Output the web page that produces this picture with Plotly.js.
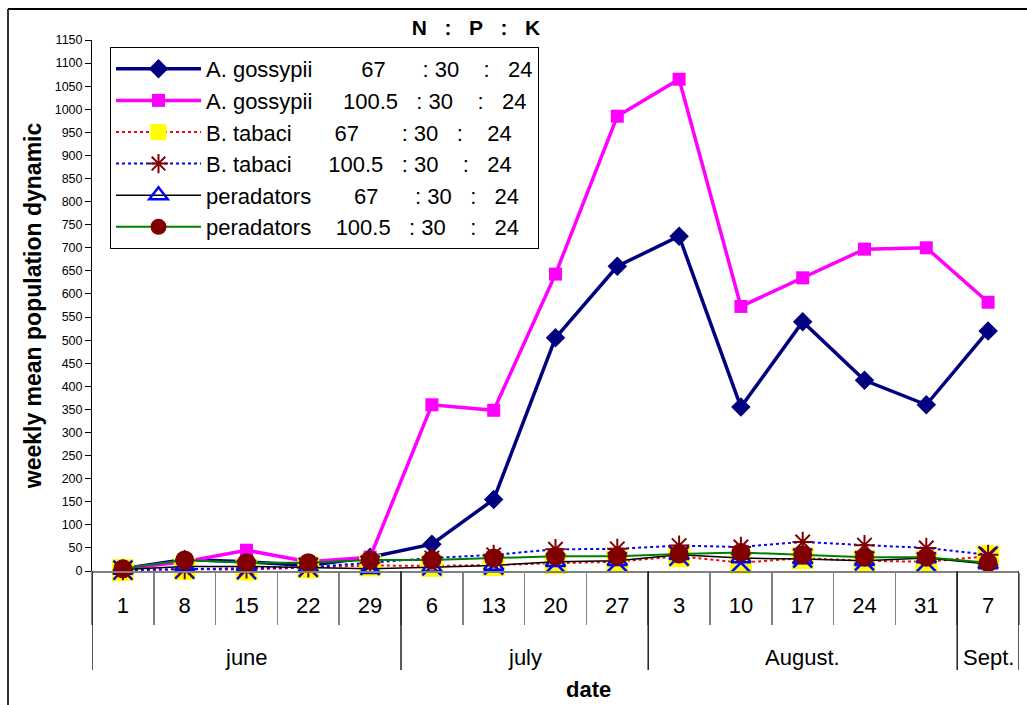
<!DOCTYPE html>
<html>
<head>
<meta charset="utf-8">
<script src="https://cdn.plot.ly/plotly-3.0.1.min.js"></script>
<style>html,body{margin:0;padding:0;background:#fff;}#chart{width:1027px;height:705px;}</style>
</head>
<body>
<div id="chart"></div>
<script>
const months = ["june","june","june","june","june","july","july","july","july","August.","August.","August.","August.","August.","Sept."];
const days = ["1","8","15","22","29","6","13","20","27","3","10","17","24","31","7"];

const aGossypii67 = [5, 25, 20, 12, 30, 58, 155, 505, 660, 725, 355, 540, 413, 360, 520];
const aGossypii100 = [5, 20, 45, 20, 30, 360, 348, 643, 985, 1065, 573, 635, 697, 700, 582];
const bTabaci67 = [2, 4, 3, 8, 12, 11, 13, 17, 20, 32, 18, 28, 22, 20, 32];
const bTabaci100 = [2, 4, 6, 8, 18, 28, 35, 47, 48, 55, 52, 63, 56, 50, 35];
const predators67 = [3, 10, 10, 8, 5, 8, 12, 20, 22, 35, 28, 26, 22, 28, 15];
const predators100 = [5, 24, 18, 18, 24, 24, 28, 32, 32, 37, 40, 35, 30, 30, 18];

const sp = n => "\u00a0".repeat(n);
const names = [
  "A. gossypii" + sp(8) + "67" + sp(6) + ":" + sp(1) + "30" + sp(4) + ":" + sp(3) + "24",
  "A. gossypii" + sp(5) + "100.5" + sp(3) + ":" + sp(1) + "30" + sp(4) + ":" + sp(3) + "24",
  "B. tabaci" + sp(7) + "67" + sp(7) + ":" + sp(1) + "30" + sp(3) + ":" + sp(4) + "24",
  "B. tabaci" + sp(6) + "100.5" + sp(3) + ":" + sp(1) + "30" + sp(4) + ":" + sp(3) + "24",
  "peradators" + sp(7) + "67" + sp(6) + ":" + sp(1) + "30" + sp(3) + ":" + sp(3) + "24",
  "peradators" + sp(4) + "100.5" + sp(3) + ":" + sp(1) + "30" + sp(4) + ":" + sp(3) + "24"
];

const x = days;
const traces = [
  {x, y: aGossypii67, name: names[0], legendgroup: "g1", mode: "lines+markers", cliponaxis: false,
   line: {color: "#000080", width: 3.5}, marker: {symbol: "diamond", size: 15, color: "#000080"}},
  {x, y: aGossypii100, name: names[1], legendgroup: "g2", mode: "lines+markers", cliponaxis: false,
   line: {color: "#FF00FF", width: 3.5}, marker: {symbol: "square", size: 13, color: "#FF00FF"}},
  {x, y: bTabaci67, name: names[2], legendgroup: "g3", mode: "lines+markers", cliponaxis: false,
   line: {color: "#FF0000", width: 2, dash: "dot"}, marker: {symbol: "square", size: 22, color: "#FFFF00"}},
  {x, y: bTabaci67, name: names[2], legendgroup: "g3", showlegend: false, mode: "markers", cliponaxis: false,
   marker: {symbol: "x-thin-open", size: 19, color: "#0000FF", line: {color: "#0000FF", width: 2.5}}},
  {x, y: bTabaci100, name: names[3], legendgroup: "g4", mode: "lines+markers", cliponaxis: false,
   line: {color: "#0000FF", width: 2, dash: "dot"}, marker: {symbol: "asterisk-open", size: 17, color: "#800000", line: {color: "#800000", width: 2}}},
  {x, y: predators67, name: names[4], legendgroup: "g5", mode: "lines+markers", cliponaxis: false,
   line: {color: "#000000", width: 1.5}, marker: {symbol: "triangle-up-open", size: 17, color: "#0000FF", line: {color: "#0000FF", width: 2.5}}},
  {x, y: predators100, name: names[5], legendgroup: "g6", mode: "lines+markers", cliponaxis: false,
   line: {color: "#008000", width: 2}, marker: {symbol: "circle", size: 19, color: "#800000"}}
];

// month groups from the months array
const groups = [];
months.forEach((m, i) => {
  if (!groups.length || groups[groups.length - 1].name !== m) groups.push({name: m, start: i, end: i});
  else groups[groups.length - 1].end = i;
});

const plotH = 705 - 40 - 134;
const dividerBottom = -(670 - 571) / plotH;
const shapes = [];
groups.forEach(g => {
  shapes.push({type: "line", xref: "x", yref: "paper", x0: g.start - 0.5, x1: g.start - 0.5, y0: 0, y1: dividerBottom,
               line: {color: "#202020", width: 1.5}});
});
shapes.push({type: "line", xref: "x", yref: "paper", x0: months.length - 0.5, x1: months.length - 0.5, y0: 0, y1: dividerBottom,
             line: {color: "#202020", width: 1.5}});
// chart frame (top and left edge)
shapes.push({type: "line", xref: "paper", yref: "paper", x0: (8 - 92) / 927, x1: 1.1, y0: (705 - 9 - 134) / plotH, y1: (705 - 9 - 134) / plotH,
             line: {color: "#000", width: 2}});
shapes.push({type: "line", xref: "paper", yref: "paper", x0: (8 - 92) / 927, x1: (8 - 92) / 927, y0: (705 - 9 - 134) / plotH, y1: -0.4,
             line: {color: "#333", width: 2}});

const annotations = groups.map(g => ({
  text: g.name, xref: "x", yref: "paper", x: (g.start + g.end) / 2, y: -(657 - 571) / plotH,
  yanchor: "middle", xanchor: "center", showarrow: false,
  font: {size: 22, family: "Liberation Sans, Arial, sans-serif", color: "#000"}
}));
annotations.push({text: "<b>date</b>", xref: "paper", yref: "paper", x: (588 - 92) / 927, y: -(689 - 571) / plotH, yanchor: "middle",
  showarrow: false, font: {size: 22, family: "Liberation Sans, Arial, sans-serif", color: "#000"}});

const layout = {
  width: 1027, height: 705,
  margin: {l: 92, r: 8, t: 40, b: 134},
  paper_bgcolor: "#ffffff", plot_bgcolor: "#ffffff",
  font: {family: "Liberation Sans, Arial, sans-serif", color: "#000"},
  showlegend: true,
  title: {text: "<b>N" + sp(3) + ":" + sp(3) + "P" + sp(3) + ":" + sp(3) + "K</b>", font: {size: 21, family: "Liberation Sans, Arial, sans-serif"},
          x: 476 / 1027, xref: "container", xanchor: "center", y: 1 - 28 / 705, yref: "container", yanchor: "middle"},
  legend: {x: (110 - 92) / 927, y: (705 - 47 - 134) / plotH, xanchor: "left", yanchor: "top", bgcolor: "#fff",
           bordercolor: "#000", borderwidth: 1, itemwidth: 85, tracegroupgap: 0,
           font: {size: 22, family: "Liberation Sans, Arial, sans-serif"}},
  xaxis: {type: "category", range: [-0.5, days.length - 0.5], showline: true, linecolor: "#808080", linewidth: 2,
          tickson: "boundaries", ticks: "outside", ticklen: 52, tickwidth: 1.5, tickcolor: "#808080",
          ticklabelstandoff: 14,
          showgrid: false, zeroline: false,
          tickfont: {size: 22, family: "Liberation Sans, Arial, sans-serif"}},
  yaxis: {range: [0, 1150], dtick: 50, tick0: 0, showline: true, linecolor: "#000", linewidth: 1,
          ticks: "outside", ticklen: 6, tickcolor: "#000", showgrid: false, zeroline: false,
          tickfont: {size: 12.5, family: "Liberation Sans, Arial, sans-serif"},
          title: {text: "<b>weekly mean population dynamic</b>", font: {size: 23}, standoff: 6}},
  annotations, shapes
};

Plotly.newPlot("chart", traces, layout, {displayModeBar: false, staticPlot: true});
</script>
</body>
</html>
